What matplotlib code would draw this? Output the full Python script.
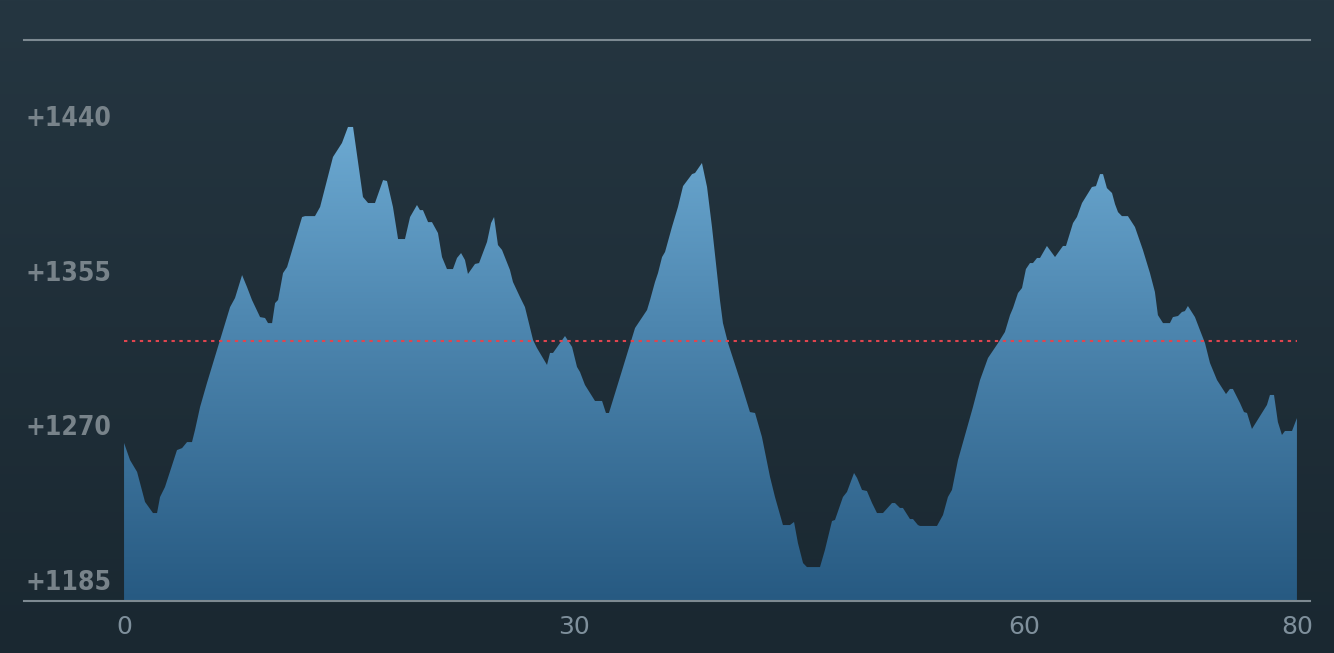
import numpy as np
import matplotlib
matplotlib.use("Agg")
import matplotlib.pyplot as plt
from matplotlib.colors import LinearSegmentedColormap

# series (x position, value)
x = [0.0, 0.4, 0.87, 1.4, 1.93, 2.2, 2.4, 2.73, 3.53, 3.87, 4.2, 4.53, 4.73, 5.07,
     5.53, 6.4, 7.07, 7.4, 7.87, 8.2, 8.53, 9.07, 9.4, 9.6, 9.87, 10.07, 10.27, 10.6,
     10.87, 11.87, 12.07, 12.73, 13.07, 13.93, 14.53, 14.93, 15.27, 15.93, 16.27,
     16.73, 17.27, 17.53, 17.93, 18.27, 18.73, 19.07, 19.53, 19.73, 19.93, 20.27,
     20.53, 20.93, 21.2, 21.53, 21.93, 22.2, 22.47, 22.73, 22.93, 23.4, 23.67, 24.2,
     24.47, 24.67, 24.93, 25.2, 25.73, 25.93, 26.4, 26.73, 27.27, 27.53, 28.2, 28.4,
     28.6, 29.4, 29.87, 30.2, 30.4, 30.73, 31.4, 31.87, 32.13, 32.33, 33.07, 34.07,
     34.87, 35.07, 35.4, 35.6, 35.87, 36.07, 36.53, 36.93, 37.27, 37.87, 38.07,
     38.53, 38.87, 39.2, 39.73, 39.93, 40.27, 41.07, 41.73, 42.07, 42.53, 43.07,
     43.4, 43.93, 44.4, 44.67, 44.93, 45.27, 45.53, 46.4, 46.73, 47.2, 47.4, 47.93,
     48.2, 48.67, 48.87, 49.2, 49.53, 49.87, 50.2, 50.6, 51.2, 51.4, 51.73, 51.93,
     52.4, 52.6, 52.93, 53.07, 54.2, 54.6, 54.93, 55.2, 55.6, 56.6, 57.07, 57.6,
     58.27, 58.73, 59.07, 59.27, 59.6, 59.87, 60.13, 60.4, 60.6, 60.87, 61.07, 61.53,
     62.07, 62.6, 62.8, 63.27, 63.53, 63.87, 64.53, 64.8, 65.07, 65.27, 65.53, 65.87,
     66.07, 66.27, 66.53, 66.93, 67.4, 67.93, 68.4, 68.73, 68.93, 69.27, 69.73,
     69.93, 70.27, 70.53, 70.73, 70.93, 71.4, 71.73, 72.07, 72.4, 72.87, 73.47,
     73.73, 73.93, 74.4, 74.67, 74.87, 75.2, 76.2, 76.4, 76.67, 76.93, 77.2, 77.4,
     77.87, 78.2]
values = [1265.8, 1256.4, 1249.9, 1233.4, 1227.3, 1227.3, 1236.1, 1241.6, 1261.9,
          1263.0, 1266.3, 1266.3, 1272.9, 1285.6, 1298.8, 1322.4, 1340.5, 1345.5,
          1358.1, 1351.5, 1344.4, 1335.0, 1334.5, 1331.7, 1331.7, 1342.7, 1344.4,
          1359.2, 1362.5, 1390.0, 1390.5, 1390.5, 1395.5, 1423.0, 1430.7, 1439.5,
          1439.5, 1401.0, 1397.7, 1397.7, 1410.3, 1409.8, 1395.5, 1377.9, 1377.9,
          1390.0, 1396.6, 1393.8, 1393.8, 1387.2, 1387.2, 1381.2, 1368.0, 1361.4,
          1361.4, 1367.5, 1370.2, 1366.4, 1358.7, 1364.2, 1364.7, 1376.3, 1386.7,
          1390.0, 1374.6, 1371.9, 1360.9, 1354.3, 1346.0, 1340.5, 1322.4, 1318.0,
          1308.7, 1315.3, 1315.3, 1324.6, 1318.6, 1307.6, 1304.8, 1297.7, 1288.9,
          1288.9, 1282.3, 1282.3, 1302.1, 1329.0, 1338.9, 1344.4, 1354.3, 1359.2,
          1368.0, 1370.8, 1384.5, 1395.5, 1407.0, 1413.6, 1414.2, 1419.7, 1406.5,
          1384.5, 1344.4, 1331.7, 1320.7, 1300.4, 1282.8, 1282.3, 1269.1, 1247.1,
          1236.1, 1220.7, 1220.7, 1222.4, 1210.8, 1199.8, 1197.6, 1197.6, 1207.0,
          1222.9, 1223.5, 1236.1, 1238.9, 1249.3, 1246.6, 1240.0, 1239.4, 1232.8,
          1227.3, 1227.3, 1232.8, 1232.8, 1230.1, 1230.1, 1224.0, 1224.0, 1220.7,
          1220.2, 1220.2, 1226.2, 1236.1, 1240.0, 1256.4, 1285.6, 1300.4, 1312.5,
          1320.7, 1326.8, 1336.1, 1340.0, 1348.2, 1351.0, 1361.4, 1364.7, 1364.7,
          1367.5, 1367.5, 1374.1, 1368.0, 1374.1, 1374.1, 1386.7, 1390.0, 1397.7,
          1406.5, 1407.0, 1413.6, 1413.6, 1405.9, 1403.2, 1397.1, 1392.7, 1390.5,
          1390.5, 1384.5, 1371.9, 1359.2, 1348.8, 1336.1, 1331.7, 1331.7, 1335.0,
          1335.6, 1337.8, 1338.3, 1341.1, 1335.0, 1327.9, 1320.7, 1309.8, 1300.4,
          1292.7, 1295.5, 1295.5, 1287.8, 1282.8, 1282.3, 1273.5, 1286.7, 1292.2,
          1292.2, 1277.3, 1270.2, 1272.4, 1272.4, 1279.5]

y_ticks = [1185, 1270, 1355, 1440]
y_labels = ["+1185", "+1270", "+1355", "+1440"]
x_ticks = [0, 30, 60, 78.2]
x_labels = ["0", "30", "60", "80"]
ref_level = 1322

y_lo, y_hi = 1178.95, 1487.3
x_lo, x_hi = -6.67, 79.07

fig = plt.figure(figsize=(13.34, 6.53), dpi=100)

# background gradient
bg = fig.add_axes([0, 0, 1, 1], zorder=0)
bg_cmap = LinearSegmentedColormap.from_list("bg", ["#1a2831", "#253641"])
bg.imshow(np.linspace(0, 1, 256).reshape(-1, 1), aspect="auto", cmap=bg_cmap,
          origin="lower", extent=[0, 1, 0, 1])
bg.axis("off")

ax = fig.add_axes([24 / 1334, 1 - 601 / 653, 1286 / 1334, 561 / 653], zorder=1)
ax.patch.set_alpha(0)

# gradient filled area
poly = ax.fill_between(x, values, y_lo, color="none", lw=0)
fill_cmap = LinearSegmentedColormap.from_list("fill", ["#275a82", "#4e87b0", "#7ab9e1"])
img = ax.imshow(np.linspace(0, 1, 256).reshape(-1, 1), aspect="auto", cmap=fill_cmap,
                origin="lower", extent=[x[0], x[-1], y_lo, y_hi], zorder=2)
img.set_clip_path(poly.get_paths()[0], transform=ax.transData)

ax.hlines(ref_level, x[0], x[-1], colors="#e0454f", linestyles=(0, (1.6, 2.2)),
          lw=1.5, zorder=3)

ax.set_xlim(x_lo, x_hi)
ax.set_ylim(y_lo, y_hi)

for side in ["left", "right"]:
    ax.spines[side].set_visible(False)
ax.spines["top"].set_color("#7d8a92")
ax.spines["bottom"].set_color("#7d8a92")
ax.spines["top"].set_linewidth(1.5)
ax.spines["bottom"].set_linewidth(1.5)

ax.set_yticks([])
ax.set_xticks(x_ticks)
ax.set_xticklabels(x_labels, fontsize=18, color="#7f909c")
ax.tick_params(axis="x", length=0, pad=10)

for v, lab in zip(y_ticks, y_labels):
    ax.text(0.001, v, lab, transform=ax.get_yaxis_transform(), ha="left", va="baseline",
            fontsize=19, fontweight="bold", fontstretch="condensed", color="#78838a",
            zorder=4, family="DejaVu Sans")

fig.savefig("out.png", dpi=100)
